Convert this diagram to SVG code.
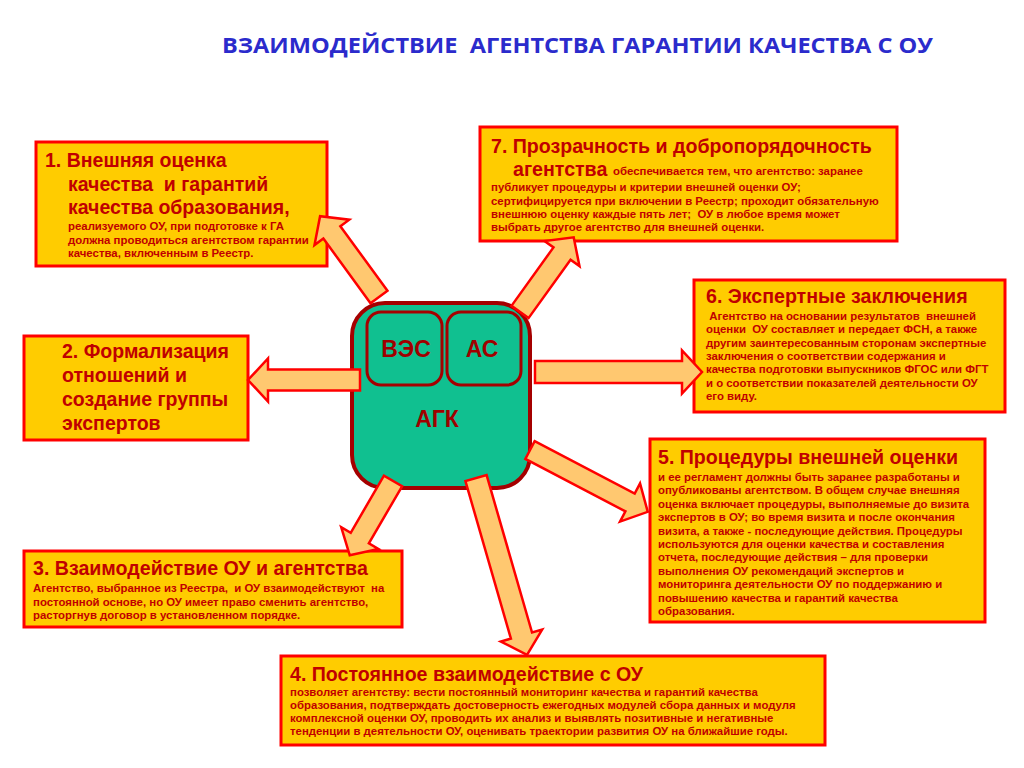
<svg xmlns="http://www.w3.org/2000/svg" width="1024" height="768" viewBox="0 0 1024 768">
<style>
text{font-family:"Liberation Sans",Arial,sans-serif;font-weight:bold;white-space:pre}
.box{fill:#FFCC00;stroke:#FF0000;stroke-width:3}
.h{font-size:19.6px;fill:#C00000}
.h1{font-size:19.5px;fill:#C00000}
.s{font-size:11.4px;fill:#C00000}
.arrow{fill:#FFC870;stroke:#FF0000;stroke-width:2.5;stroke-linejoin:miter}
.core{fill:#10C090;stroke:#A50000;stroke-width:4}
.inner{fill:#10C090;stroke:#A50000;stroke-width:3}
.c{font-size:23px;fill:#A00000;text-anchor:middle}
.title{font-family:"Open Sans","Liberation Sans",sans-serif;font-size:22px;fill:#2B2BCC}
</style>
<rect width="1024" height="768" fill="#FFFFFF"/>
<text class="title" x="222" y="53" textLength="711" lengthAdjust="spacingAndGlyphs">ВЗАИМОДЕЙСТВИЕ  АГЕНТСТВА ГАРАНТИИ КАЧЕСТВА С ОУ</text>

<g id="node1">
<rect class="box" x="36" y="142" width="291" height="124"/>
<text class="h1" x="45" y="167">1. Внешняя оценка</text>
<text class="h1" x="68" y="191">качества  и гарантий</text>
<text class="h1" x="68" y="214">качества образования,</text>
<text class="s" x="68" y="230">реализуемого ОУ, при подготовке к ГА</text>
<text class="s" x="68" y="244">должна проводиться агентством гарантии</text>
<text class="s" x="68" y="257">качества, включенным в Реестр.</text>
</g>

<g id="node2">
<rect class="box" x="24" y="336" width="224" height="104"/>
<text class="h1" x="62" y="358">2. Формализация</text>
<text class="h1" x="62" y="382">отношений и</text>
<text class="h1" x="62" y="406">создание группы</text>
<text class="h1" x="62" y="430">экспертов</text>
</g>

<g id="node7">
<rect class="box" x="480" y="127" width="417" height="114"/>
<text class="h" x="491" y="153">7. Прозрачность и добропорядочность</text>
<text class="h" x="513" y="176">агентства</text>
<text class="s" x="613" y="175">обеспечивается тем, что агентство: заранее</text>
<text class="s" x="491" y="191">публикует процедуры и критерии внешней оценки ОУ;</text>
<text class="s" x="491" y="204.5">сертифицируется при включении в Реестр; проходит обязательную</text>
<text class="s" x="491" y="218">внешнюю оценку каждые пять лет;  ОУ в любое время может</text>
<text class="s" x="491" y="231">выбрать другое агентство для внешней оценки.</text>
</g>

<g id="node6">
<rect class="box" x="694" y="280" width="311" height="132"/>
<text class="h" x="706" y="303">6. Экспертные заключения</text>
<text class="s" x="706" y="320"> Агентство на основании результатов  внешней</text>
<text class="s" x="706" y="333">оценки  ОУ составляет и передает ФСН, а также</text>
<text class="s" x="706" y="346.5">другим заинтересованным сторонам экспертные</text>
<text class="s" x="706" y="360">заключения о соответствии содержания и</text>
<text class="s" x="706" y="373">качества подготовки выпускников ФГОС или ФГТ</text>
<text class="s" x="706" y="386.5">и о соответствии показателей деятельности ОУ</text>
<text class="s" x="706" y="400">его виду.</text>
</g>

<g id="node5">
<rect class="box" x="650" y="439" width="335" height="183"/>
<text class="h" x="658" y="464">5. Процедуры внешней оценки</text>
<text class="s" x="658" y="481">и ее регламент должны быть заранее разработаны и</text>
<text class="s" x="658" y="494.4">опубликованы агентством. В общем случае внешняя</text>
<text class="s" x="658" y="507.8">оценка включает процедуры, выполняемые до визита</text>
<text class="s" x="658" y="521.2">экспертов в ОУ; во время визита и после окончания</text>
<text class="s" x="658" y="534.6">визита, а также - последующие действия. Процедуры</text>
<text class="s" x="658" y="548">используются для оценки качества и составления</text>
<text class="s" x="658" y="561.4">отчета, последующие действия – для проверки</text>
<text class="s" x="658" y="574.8">выполнения ОУ рекомендаций экспертов и</text>
<text class="s" x="658" y="588.2">мониторинга деятельности ОУ по поддержанию и</text>
<text class="s" x="658" y="601.6">повышению качества и гарантий качества</text>
<text class="s" x="658" y="615">образования.</text>
</g>

<g id="node3">
<rect class="box" x="24" y="551" width="378" height="76"/>
<text class="h" x="33" y="575">3. Взаимодействие ОУ и агентства</text>
<text class="s" x="33" y="592">Агентство, выбранное из Реестра,  и ОУ взаимодействуют  на</text>
<text class="s" x="33" y="605.5">постоянной основе, но ОУ имеет право сменить агентство,</text>
<text class="s" x="33" y="619">расторгнув договор в установленном порядке.</text>
</g>

<g id="node4">
<rect class="box" x="281" y="656" width="544" height="89"/>
<text class="h" x="290" y="681">4. Постоянное взаимодействие с ОУ</text>
<text class="s" x="290" y="695.5">позволяет агентству: вести постоянный мониторинг качества и гарантий качества</text>
<text class="s" x="290" y="708.5">образования, подтверждать достоверность ежегодных модулей сбора данных и модуля</text>
<text class="s" x="290" y="721.5">комплексной оценки ОУ, проводить их анализ и выявлять позитивные и негативные</text>
<text class="s" x="290" y="734.5">тенденции в деятельности ОУ, оценивать траектории развития ОУ на ближайшие годы.</text>
</g>

<g id="center">
<rect class="core" x="352" y="303" width="178" height="185" rx="33"/>
<rect class="inner" x="367" y="312" width="75" height="73" rx="14"/>
<rect class="inner" x="447" y="312" width="74" height="73" rx="14"/>
<text class="c" x="406" y="357">ВЭС</text>
<text class="c" x="482" y="357">АС</text>
<text class="c" x="437" y="427">АГК</text>
</g>

<g id="connectors">
<polygon class="arrow" transform="translate(379,297) rotate(-126.1)" points="0,-10.5 80,-10.5 80,-21.5 100,0 80,21.5 80,10.5 0,10.5"/>
<polygon class="arrow" transform="translate(520,312) rotate(-54.3)" points="0,-10.5 72,-10.5 72,-21.5 92,0 72,21.5 72,10.5 0,10.5"/>
<polygon class="arrow" transform="translate(360,380) rotate(180)" points="0,-10.5 92,-10.5 92,-21.5 112,0 92,21.5 92,10.5 0,10.5"/>
<polygon class="arrow" transform="translate(535,372) rotate(0)" points="0,-11 147,-11 147,-21.5 167,0 147,21.5 147,11 0,11"/>
<polygon class="arrow" transform="translate(530,450) rotate(27.7)" points="0,-10 113,-10 113,-21.5 133,0 113,21.5 113,10 0,10"/>
<polygon class="arrow" transform="translate(393,481) rotate(120.2)" points="0,-10.5 66,-10.5 66,-21.5 86,0 66,21.5 66,10.5 0,10.5"/>
<polygon class="arrow" transform="translate(476,478) rotate(73.9)" points="0,-11 164,-11 164,-21.5 184,0 164,21.5 164,11 0,11"/>
</g>
</svg>
